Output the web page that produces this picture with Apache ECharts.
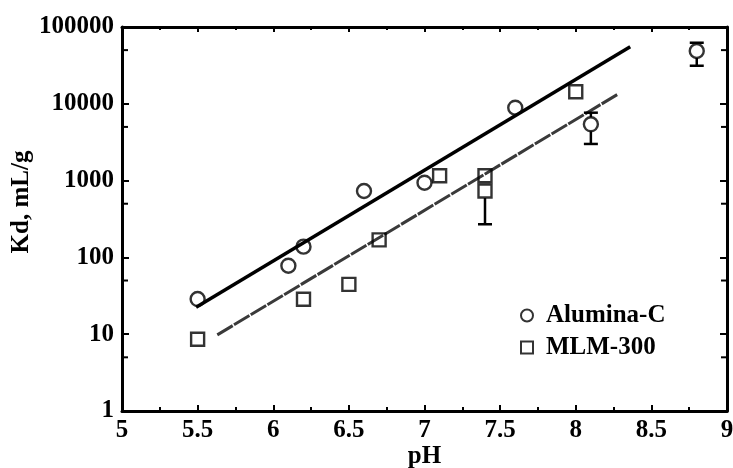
<!DOCTYPE html>
<html><head><meta charset="utf-8">
<script src="https://cdn.jsdelivr.net/npm/echarts@6/dist/echarts.min.js"></script>
<style>html,body{margin:0;padding:0;background:#fff}#c{width:733px;height:468px}</style>
</head><body><div id="c"></div>
<script>
// Alumina-C measurements (pH, Kd mL/g)
const aluminaPH = [5.5, 6.1, 6.2, 6.6, 7.0, 7.6, 8.1, 8.8];
const aluminaKd = [28.7, 78, 138, 732, 939, 8900, 5410, 48700];
// MLM-300 measurements
const mlmPH = [5.5, 6.2, 6.5, 6.7, 7.1, 7.4, 7.4, 8.0];
const mlmKd = [8.6, 28.5, 44.6, 169, 1158, 1158, 732, 14380];
// Fitted lines (endpoints)
const aluminaFitPH = [5.49, 8.36];
const aluminaFitKd = [22.4, 55400];
const mlmFitPH = [5.63, 8.28];
const mlmFitKd = [9.8, 13400];
// Error bars: [pH, value, low, high]
const aluminaErr = [[8.1, 5410, 3000, 7660], [8.8, 48700, 31300, 62400]];
const mlmErr = [[7.4, 732, 270, null]];
// Minor y ticks
const yMinorTicks = [5, 50, 500, 5000, 50000];
const seriesNames = ['Alumina-C', 'MLM-300'];

const FONT = 'Liberation Serif';
const zip = (a, b) => a.map((v, i) => [v, b[i]]);

function errRender(params, api) {
  const x = api.value(0), c = api.value(1), lo = api.value(2), hi = api.value(3);
  const pc = api.coord([x, c]);
  const r = 7, cap = 7;
  const st = { stroke: '#000', lineWidth: 2.5 };
  const ch = [];
  if (isFinite(lo) && lo > 0) {
    const p = api.coord([x, lo]);
    ch.push({ type: 'line', shape: { x1: pc[0], y1: pc[1] + r, x2: p[0], y2: p[1] }, style: st });
    ch.push({ type: 'line', shape: { x1: p[0] - cap, y1: p[1], x2: p[0] + cap, y2: p[1] }, style: st });
  }
  if (isFinite(hi) && hi > 0) {
    const p = api.coord([x, hi]);
    ch.push({ type: 'line', shape: { x1: pc[0], y1: pc[1] - r, x2: p[0], y2: p[1] }, style: st });
    ch.push({ type: 'line', shape: { x1: p[0] - cap, y1: p[1], x2: p[0] + cap, y2: p[1] }, style: st });
  }
  return { type: 'group', children: ch };
}

function minorRender(params, api) {
  const v = api.value(1);
  const l = api.coord([5, v]);
  const r = api.coord([9, v]);
  const st = { stroke: '#000', lineWidth: 2 };
  return { type: 'group', children: [
    { type: 'line', shape: { x1: l[0], y1: l[1], x2: l[0] + 6, y2: l[1] }, style: st },
    { type: 'line', shape: { x1: r[0], y1: r[1], x2: r[0] - 6, y2: r[1] }, style: st }
  ] };
}

const axisLine = { show: true, onZero: false, lineStyle: { color: '#000', width: 3 } };
const labelStyle = { fontFamily: FONT, fontWeight: 'bold', fontSize: 25, color: '#000' };

const chart = echarts.init(document.getElementById('c'), null, { renderer: 'canvas' });
chart.setOption({
  animation: false,
  backgroundColor: '#fff',
  grid: { left: 122, right: 6, top: 27, bottom: 57, containLabel: false, outerBoundsMode: 'none' },
  legend: {
    data: seriesNames,
    orient: 'vertical',
    left: 515, top: 298,
    itemWidth: 12, itemHeight: 12, itemGap: 7,
    textStyle: Object.assign({ padding: [0, 0, 0, 8] }, labelStyle),
    selectedMode: false
  },
  xAxis: [
    {
      type: 'value', min: 5, max: 9, interval: 0.5, position: 'bottom',
      axisLine, splitLine: { show: false },
      axisTick: { inside: true, length: 6, lineStyle: { width: 2, color: '#000' } },
      minorTick: { show: true, splitNumber: 2, length: 4, lineStyle: { width: 2, color: '#000' } },
      axisLabel: Object.assign({ margin: 7, formatter: v => String(+v.toFixed(2)) }, labelStyle),
      name: 'pH', nameLocation: 'middle', nameGap: 33, nameMoveOverlap: false,
      nameTextStyle: labelStyle
    },
    {
      type: 'value', min: 5, max: 9, interval: 0.5, position: 'top',
      axisLine, splitLine: { show: false },
      axisTick: { inside: true, length: 5, lineStyle: { width: 2, color: '#000' } },
      minorTick: { show: true, splitNumber: 2, length: 3, lineStyle: { width: 2, color: '#000' } },
      axisLabel: { show: false }
    }
  ],
  yAxis: [
    {
      type: 'log', logBase: 10, min: 1, max: 100000, interval: 1, position: 'left',
      axisLine, splitLine: { show: false },
      axisTick: { inside: true, length: 7, lineStyle: { width: 2, color: '#000' } },
      axisLabel: Object.assign({ margin: 8, formatter: v => String(Math.round(v)) }, labelStyle),
      name: 'Kd, mL/g', nameLocation: 'middle', nameGap: 88, nameMoveOverlap: false,
      nameTextStyle: Object.assign({ padding: [0, 0, 0, 34] }, labelStyle)
    },
    {
      type: 'log', logBase: 10, min: 1, max: 100000, interval: 1, position: 'right',
      axisLine, splitLine: { show: false },
      axisTick: { inside: true, length: 7, lineStyle: { width: 2, color: '#000' } },
      axisLabel: { show: false }
    }
  ],
  series: [
    {
      name: 'fitA', type: 'line', data: zip(aluminaFitPH, aluminaFitKd),
      symbol: 'none', silent: true, lineStyle: { color: '#000', width: 3.5 }, z: 2
    },
    {
      name: 'fitM', type: 'line', data: zip(mlmFitPH, mlmFitKd),
      symbol: 'none', silent: true, lineStyle: { color: '#3a3a3a', width: 3, type: [18, 1.5] }, z: 2
    },
    {
      name: seriesNames[0], type: 'scatter', data: zip(aluminaPH, aluminaKd),
      symbol: 'circle', symbolSize: 14,
      itemStyle: { color: 'rgba(0,0,0,0)', borderColor: '#000', borderWidth: 2.4 }, z: 3
    },
    {
      name: seriesNames[1], type: 'scatter', data: zip(mlmPH, mlmKd),
      symbol: 'rect', symbolSize: 13,
      itemStyle: { color: 'rgba(0,0,0,0)', borderColor: '#000', borderWidth: 2.4 }, z: 3
    },
    {
      name: 'errA', type: 'custom', data: aluminaErr, renderItem: errRender,
      encode: { x: 0, y: 1 }, silent: true, z: 3
    },
    {
      name: 'errM', type: 'custom', data: mlmErr, renderItem: errRender,
      encode: { x: 0, y: 1 }, silent: true, z: 3
    },
    {
      name: 'minorY', type: 'custom', data: yMinorTicks.map(v => [5, v]), renderItem: minorRender,
      encode: { x: 0, y: 1 }, silent: true, clip: false, z: 4
    }
  ]
});
</script>
</body></html>
